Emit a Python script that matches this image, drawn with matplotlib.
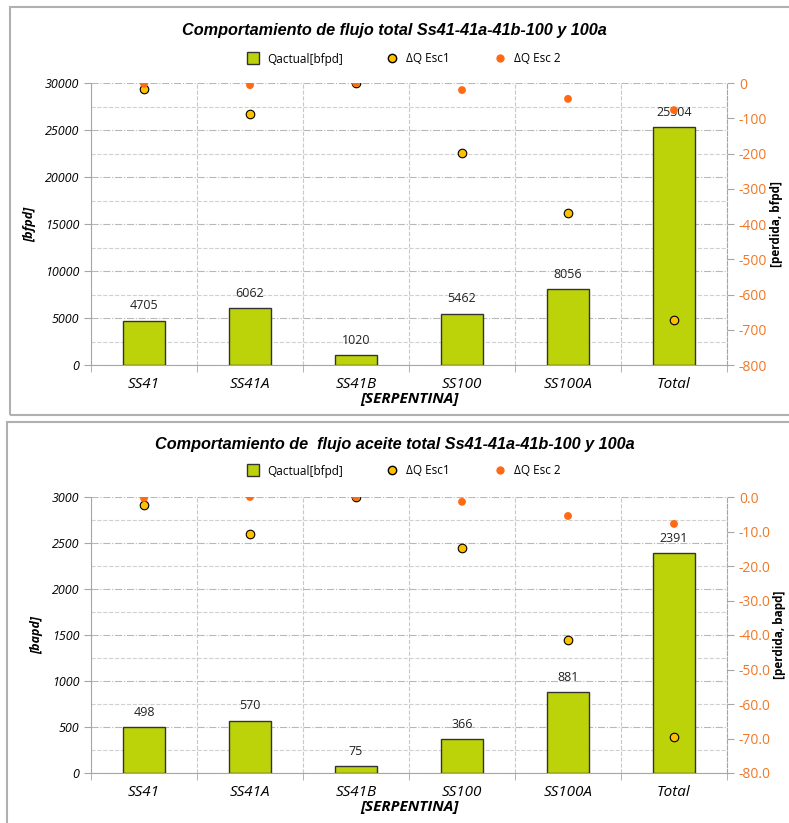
import matplotlib.pyplot as plt
import matplotlib.patches as mpatches
from matplotlib.lines import Line2D
import numpy as np

categorias = ["SS41", "SS41A", "SS41B", "SS100", "SS100A", "Total"]

# grafico 1: flujo total
q_total = [4705, 6062, 1020, 5462, 8056, 25304]
esc1_total = [-17, -88, 0, -199, -369, -672]
esc2_total = [-2, -6, 0, -20, -45, -77]

# grafico 2: flujo aceite
q_aceite = [498, 570, 75, 366, 881, 2391]
esc1_aceite = [-2.3, -10.7, 0, -14.8, -41.4, -69.6]
esc2_aceite = [-0.3, 0, 0, -1.4, -5.5, -7.8]

VERDE = "#bcd30a"
AMARILLO = "#ffc000"
NARANJA = "#ff6a13"
ORANGE_TXT = "#f07828"
GRIS = "#a6a6a6"

plt.rcParams["font.family"] = ["Open Sans", "DejaVu Sans"]

fig = plt.figure(figsize=(7.89, 8.23), dpi=100)
fig.patch.set_facecolor("white")

# marcos de los paneles
fig.patches.append(mpatches.Rectangle((10 / 789, 1 - 415 / 823), 1.0, 408 / 823,
                                      transform=fig.transFigure, fill=False,
                                      edgecolor="#b0b0b0", linewidth=1.5))
fig.patches.append(mpatches.Rectangle((7 / 789, 1 - 830 / 823), 1.0, 408 / 823,
                                      transform=fig.transFigure, fill=False,
                                      edgecolor="#b0b0b0", linewidth=1.5))


def panel(rect, q, e1, e2, ymax, ystep, rmin, rstep, rfmt, titulo, ylabel, rlabel, ty, ly, rx):
    ax = fig.add_axes(rect)
    x = np.arange(len(categorias))
    ax.bar(x, q, width=0.4, color=VERDE, edgecolor="#333333", linewidth=1.0, zorder=3)
    for xi, v in zip(x, q):
        ax.text(xi, v + ymax * 0.03, str(v), ha="center", va="bottom", fontsize=9,
                color="#222222", zorder=5)
    ax.set_xlim(-0.5, len(categorias) - 0.5)
    ax.set_ylim(0, ymax)
    ax.set_yticks(np.arange(0, ymax + 1, ystep))
    ax.set_yticks(np.arange(ystep / 2, ymax, ystep), minor=True)
    ax.yaxis.grid(True, which="major", color="#b8b8b8", linestyle="-.", linewidth=0.8, zorder=0)
    ax.yaxis.grid(True, which="minor", color="#d0d0d0", linestyle="--", linewidth=0.8, zorder=0)
    ax.set_xticks(x)
    ax.set_xticklabels(categorias, fontsize=11, style="italic")
    ax.set_xticks(np.arange(-0.5, len(categorias), 1), minor=True)
    ax.xaxis.grid(True, which="minor", color="#c8c8c8", linestyle="--", linewidth=0.8, zorder=0)
    ax.tick_params(axis="x", which="major", length=0, pad=9)
    ax.tick_params(axis="x", which="minor", length=5, color=GRIS)
    ax.tick_params(axis="y", which="minor", length=0)
    ax.tick_params(axis="y", which="major", length=5, color=GRIS, labelsize=9)
    for t in ax.get_yticklabels():
        t.set_style("italic")
    ax.spines["top"].set_visible(False)
    ax.spines["right"].set_visible(False)
    ax.spines["left"].set_color(GRIS)
    ax.spines["bottom"].set_color(GRIS)
    ax.set_ylabel(ylabel, fontsize=9, fontweight="bold", style="italic", labelpad=6)
    ax.set_xlabel("[SERPENTINA]", fontsize=11, fontweight="bold", style="italic", labelpad=0)

    ax2 = ax.twinx()
    ax2.set_ylim(rmin, 0)
    ax2.set_yticks(np.arange(rmin, 0.001, rstep))
    ax2.yaxis.set_major_formatter(plt.FormatStrFormatter(rfmt))
    ax2.tick_params(axis="y", length=5, color=GRIS, labelcolor=ORANGE_TXT, labelsize=10)
    ax2.spines["right"].set_color(GRIS)
    ax2.spines["right"].set_linestyle("--")
    for s in ["top", "left", "bottom"]:
        ax2.spines[s].set_visible(False)
    ax2.scatter(x, e1, s=38, color=AMARILLO, edgecolor="black", linewidth=0.8, zorder=6)
    ax2.scatter(x, e2, s=32, color=NARANJA, edgecolor="none", zorder=6)
    ax2.set_ylabel(rlabel, fontsize=8.5, fontweight="bold")
    ax2.yaxis.set_label_coords(rx, 0.5)

    fig.text(0.50, ty, titulo, ha="center", va="center", fontsize=11.7,
             fontweight="bold", style="italic", family="Liberation Sans")
    handles = [
        Line2D([], [], marker="s", linestyle="none", markersize=8, markerfacecolor=VERDE,
               markeredgecolor="#333333", label="Qactual[bfpd]"),
        Line2D([], [], marker="o", linestyle="none", markersize=6, markerfacecolor=AMARILLO,
               markeredgecolor="black", label="ΔQ Esc1"),
        Line2D([], [], marker="o", linestyle="none", markersize=6, markerfacecolor=NARANJA,
               markeredgecolor="none", label="ΔQ Esc 2"),
    ]
    fig.legend(handles=handles, loc="center", bbox_to_anchor=(0.508, ly), ncol=3,
               frameon=False, fontsize=8.5, handletextpad=0.2, columnspacing=3.2)
    return ax, ax2


panel([91 / 789, 1 - 365 / 823, 636 / 789, 282 / 823], q_total, esc1_total, esc2_total,
      30000, 5000, -800, 100, "%d",
      "Comportamiento de flujo total Ss41-41a-41b-100 y 100a",
      "[bfpd]", "[perdida, bfpd]", 1 - 31 / 823, 1 - 59 / 823, 1.068)

panel([91 / 789, 1 - 773 / 823, 636 / 789, 276 / 823], q_aceite, esc1_aceite, esc2_aceite,
      3000, 500, -80, 10, "%.1f",
      "Comportamiento de  flujo aceite total Ss41-41a-41b-100 y 100a",
      "[bapd]", "[perdida, bapd]", 1 - 445 / 823, 1 - 471 / 823, 1.072)

plt.savefig("out.png", dpi=100, facecolor=fig.get_facecolor())
plt.close()
